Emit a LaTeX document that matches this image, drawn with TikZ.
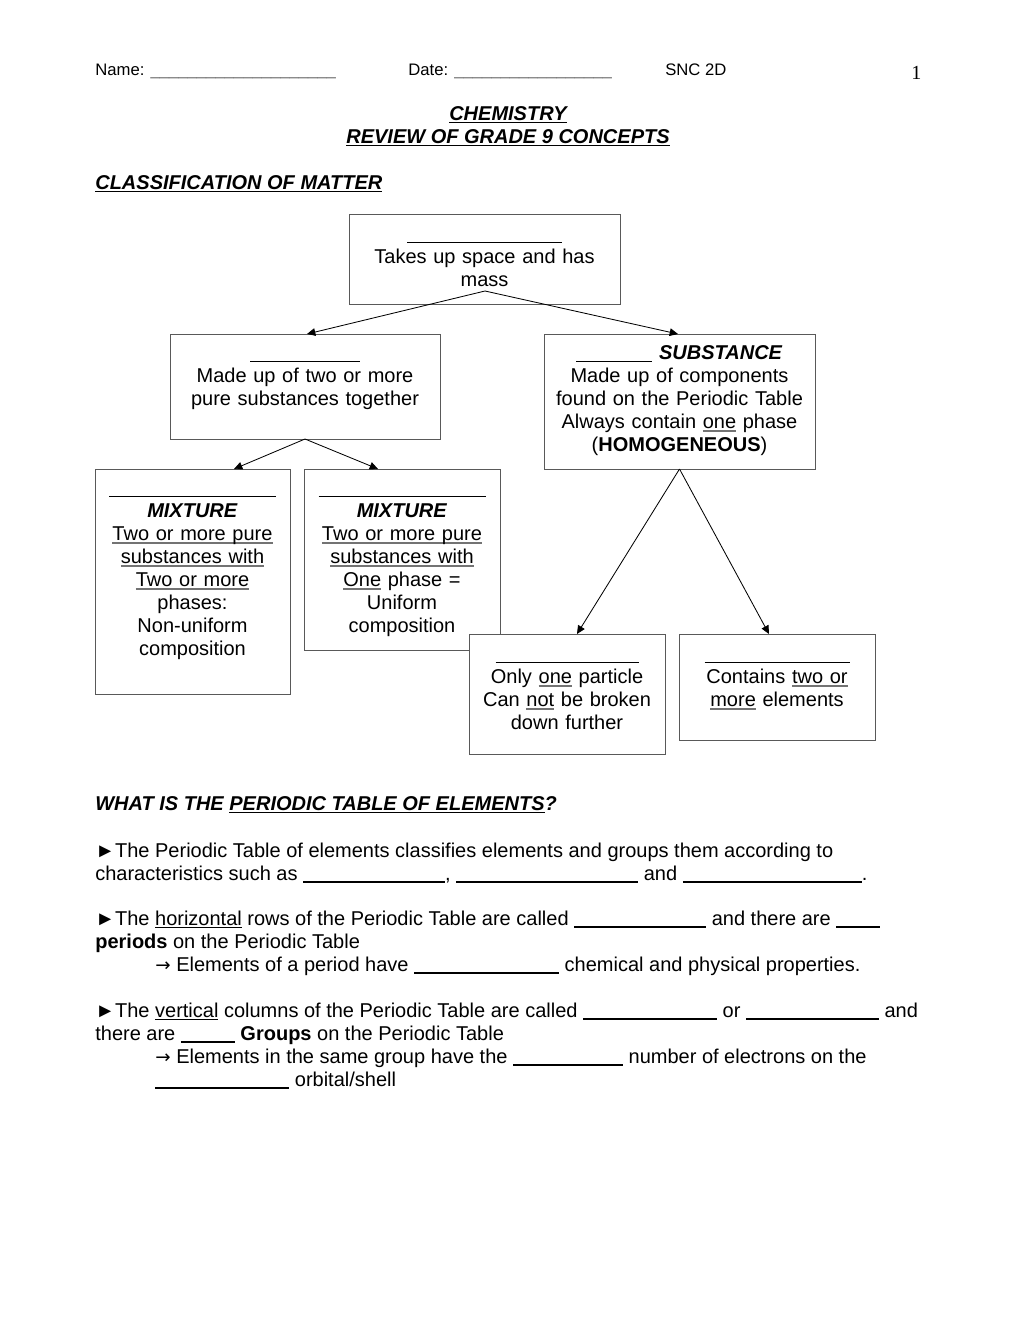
\documentclass[tikz,border=0pt]{standalone}
\usepackage{fontspec}
\setmainfont{Liberation Sans}
\newfontfamily\serifone{Liberation Serif}
\newfontfamily\dejavu{DejaVu Sans}
\usetikzlibrary{arrows.meta}
\newcommand\bodyfont{\fontsize{12pt}{13.8pt}\selectfont}
\newcommand\smallhead{\fontsize{10pt}{11.5pt}\selectfont}
\newcommand\blk[1]{\rule[-2pt]{\dimexpr #1pt*6/10\relax}{1.2pt}}
\newcommand\bblk[1]{\rule[-1.8pt]{\dimexpr #1pt*6/10\relax}{0.7pt}}
\newsavebox\ulbox
\newcommand\myul[2]{\leavevmode\sbox\ulbox{#2}\rlap{\textcolor{#1}{\rule[-2pt]{\wd\ulbox}{0.8pt}}}\usebox\ulbox}
\newcommand\gul[1]{\myul{black!55}{#1}}
\newcommand\bul[1]{\myul{black}{#1}}
\newcommand\fl{\rule{0pt}{10pt}}
\newcommand\rarr{{\dejavu\fontsize{11pt}{13.8pt}\selectfont →}}
\tikzset{
  box/.style={draw=black!65, line width=0.6pt, fill=white, inner sep=0pt, outer sep=0pt, anchor=north west},
  boxtxt/.style={inner sep=0pt, anchor=north, align=center, font=\bodyfont},
  txt/.style={inner sep=0pt, anchor=base west, font=\bodyfont},
  conn/.style={line width=0.5pt, -{Triangle[length=5pt,width=4.6pt]}},
}
\newcommand\pbox[5]{\node[box, minimum width={#4*0.6pt}, minimum height={#5*0.6pt}] (#1) at (#2,#3) {};}
\begin{document}
\begin{tikzpicture}[x=0.6pt,y=-0.6pt]
\useasboundingbox (0,0) rectangle (1020,1320);
% header
\node[txt, font=\smallhead] (name) at (95,75) {Name: \textcolor{black!60}{\_\_\_\_\_\_\_\_\_\_\_\_\_\_\_\_\_\_\_\_}};
\node[txt, font=\smallhead] (date) at (408,75) {Date: \textcolor{black!60}{\_\_\_\_\_\_\_\_\_\_\_\_\_\_\_\_\_}};
\node[txt, font=\smallhead] (snc) at (665,75) {SNC 2D};
\node[txt, font=\serifone\bodyfont] (pg) at (911,79) {1};
\node[txt, anchor=base] (chem) at (508,120) {\textbf{\textit{\bul{CHEMISTRY}}}};
\node[txt, anchor=base] (review) at (508,143) {\textbf{\textit{\bul{REVIEW OF GRADE 9 CONCEPTS}}}};
\node[txt] (classif) at (95,189) {\textbf{\textit{\bul{CLASSIFICATION OF MATTER}}}};
% boxes
\pbox{top}{349}{214}{271}{90}
\pbox{mix}{170}{334}{270}{105}
\pbox{pure}{544}{334}{271}{135}
\pbox{het}{95}{469}{195}{225}
\pbox{homo}{304}{469}{196}{181}
\pbox{elem}{469}{634}{196}{120}
\pbox{comp}{679}{634}{196}{106}
% box texts (first baseline - 16.67)
\node[boxtxt, text width=160pt] (toptxt) at (484.5,223.3) {\fl\bblk{155}\\Takes up space and has\\mass};
\node[boxtxt, text width=160pt] (mixtxt) at (305,342.3) {\fl\bblk{110}\\Made up of two or more\\pure substances together};
\node[boxtxt, text width=160pt] (puretxt) at (679.5,342.3) {\fl\bblk{76} \textbf{\textit{SUBSTANCE}}\\Made up of components\\found on the Periodic Table\\Always contain \gul{one} phase\\(\textbf{HOMOGENEOUS})};
\node[boxtxt, text width=115pt] (hettxt) at (192.5,477.3) {\fl\bblk{167}\\\textbf{\textit{MIXTURE}}\\\gul{Two or more pure}\\\gul{substances with}\\\gul{Two or more}\\phases:\\Non-uniform\\composition};
\node[boxtxt, text width=115pt] (homotxt) at (402,477.3) {\fl\bblk{167}\\\textbf{\textit{MIXTURE}}\\\gul{Two or more pure}\\\gul{substances with}\\\gul{One} phase =\\Uniform\\composition};
\node[boxtxt, text width=115pt] (elemtxt) at (567,643.3) {\fl\bblk{143}\\Only \gul{one} particle\\Can \gul{not} be broken\\down further};
\node[boxtxt, text width=115pt] (comptxt) at (777,643.3) {\fl\bblk{145}\\Contains \gul{two or}\\\gul{more} elements};
% connectors
\coordinate (topsrc) at (485,291);
\draw[conn] (topsrc) -- ([xshift=1.2pt]mix.north);
\draw[conn] (topsrc) -- ([xshift=-0.9pt]pure.north);
\draw[conn] (mix.south) -- ([xshift=24.9pt]het.north);
\draw[conn] (mix.south) -- ([xshift=-14.4pt]homo.north);
\draw[conn] (pure.south) -- ([xshift=6pt]elem.north);
\draw[conn] (pure.south) -- ([xshift=-4.8pt]comp.north);
% periodic table section
\node[txt] (q) at (95,810) {\textbf{\textit{WHAT IS THE \bul{PERIODIC TABLE OF ELEMENTS}?}}};
\node[txt] (p1a) at (95,857) {►The Periodic Table of elements classifies elements and groups them according to};
\node[txt] (p1b) at (95,880) {characteristics such as \blk{142}, \blk{182} and \blk{179}.};
\node[txt] (p2a) at (95,925) {►The \bul{horizontal} rows of the Periodic Table are called \blk{132} and there are \blk{44}};
\node[txt] (p2b) at (95,948) {\textbf{periods} on the Periodic Table};
\node[txt] (p2c) at (155,971) {\rarr\ Elements of a period have \blk{145} chemical and physical properties.};
\node[txt] (p3a) at (95,1017) {►The \bul{vertical} columns of the Periodic Table are called \blk{134} or \blk{133} and};
\node[txt] (p3b) at (95,1040) {there are \blk{54} \textbf{Groups} on the Periodic Table};
\node[txt] (p3c) at (155,1063) {\rarr\ Elements in the same group have the \blk{110} number of electrons on the};
\node[txt] (p3d) at (155,1086) {\blk{134} orbital/shell};
\end{tikzpicture}
\end{document}
